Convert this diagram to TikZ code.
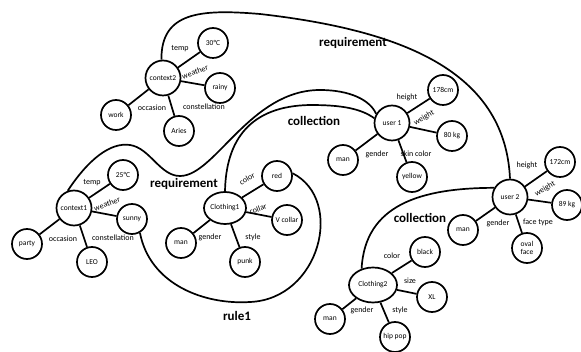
\documentclass[tikz,border=0pt]{standalone}
\usepackage{fontspec}
\setmainfont{Carlito}
\usetikzlibrary{shapes.geometric}

\begin{document}
\begin{tikzpicture}[x=1pt, y=-1pt]
		\tikzstyle{place}=[circle, draw=black, line width=1.7pt, minimum size=30pt, inner sep=0pt, align=center, font=\fontsize{7.5}{7.5}\selectfont]
		\tikzstyle{hub}=[place, minimum size=35pt]
		\tikzstyle{cloth}=[ellipse, draw=black, line width=1.7pt, minimum width=42pt, minimum height=32pt, inner sep=0pt, font=\fontsize{7.5}{7.5}\selectfont]
		\tikzstyle{lbl}=[inner sep=0pt, font=\fontsize{8}{8}\selectfont]
		\tikzstyle{rel}=[font=\bfseries\fontsize{13}{15}\selectfont]
		\tikzstyle{link}=[line width=1.7pt]
		
		\useasboundingbox (0,0) rectangle (581,352);
		
		% Context 2
		\node[hub] at (163,78) (ctx2) {context2};
		\foreach \i/\x/\y/\t in {1/213/43/30°C, 2/220/88/rainy, 3/116/115/work, 4/179/131/Aries}
		\node[place] at (\x,\y) (ctx2_\i) {\t};
		\foreach \i in {1,...,4}
		\draw[link] (ctx2) -- (ctx2_\i);
		\foreach \i/\x/\y/\r/\t in {1/180/49/0/temp, 2/195/72/20/weather, 3/152/108/0/occasion, 4/204/107/0/constellation}
		\node[lbl, rotate=\r] at (\x,\y) (ctx2_l\i) {\t};
		
		% Context 1
		\node[hub] at (74,208) (ctx1) {context1};
		\foreach \i/\x/\y/\t in {1/123/175/25°C, 2/132/219/sunny, 3/27/244/party, 4/92/262/LEO}
		\node[place] at (\x,\y) (ctx1_\i) {\t};
		\foreach \i in {1,...,4}
		\draw[link] (ctx1) -- (ctx1_\i);
		\foreach \i/\x/\y/\r/\t in {1/92/183/0/temp, 2/107/204/20/weather, 3/63/239/0/occasion, 4/113/238/0/constellation}
		\node[lbl, rotate=\r] at (\x,\y) (ctx1_l\i) {\t};
		
		% Clothing 1
		\node[cloth] at (225,208) (cl1) {Clothing1};
		\foreach \i/\x/\y/\t in {1/277/176/red, 2/287/220/V collar, 3/181/243/man, 4/245/262/punk}
		\node[place] at (\x,\y) (cl1_\i) {\t};
		\foreach \i in {1,...,4}
		\draw[link] (cl1) -- (cl1_\i);
		\foreach \i/\x/\y/\r/\t in {1/247/179/30/color, 2/258/209/20/collar, 3/210/237/0/gender, 4/253/237/0/style}
		\node[lbl, rotate=\r] at (\x,\y) (cl1_l\i) {\t};
		
		% User 1
		\node[hub] at (392,123) (usr1) {user 1};
		\foreach \i/\x/\y/\t in {1/443/90/178cm, 2/452/136/80 kg, 3/343/160/man, 4/412/177/yellow}
		\node[place] at (\x,\y) (usr1_\i) {\t};
		\foreach \i in {1,...,4}
		\draw[link] (usr1) -- (usr1_\i);
		\foreach \i/\x/\y/\r/\t in {1/407/97/0/height, 2/424/118/30/weight, 3/377/154/0/gender, 4/416/154/0/skin color}
		\node[lbl, rotate=\r] at (\x,\y) (usr1_l\i) {\t};
		
		% User 2
		\node[hub] at (510,197) (usr2) {user 2};
		\foreach \i/\x/\y/\t in {1/560/162/172cm, 2/567/205/89 kg, 3/463/230/man, 4/527/248/oval\\face}
		\node[place] at (\x,\y) (usr2_\i) {\t};
		\foreach \i in {1,...,4}
		\draw[link] (usr2) -- (usr2_\i);
		\foreach \i/\x/\y/\r/\t in {1/527/165/0/height, 2/545/189/30/weight, 3/498/223/0/gender, 4/538/222/0/face type}
		\node[lbl, rotate=\r] at (\x,\y) (usr2_l\i) {\t};
		
		% Clothing 2
		\node[cloth, minimum width=48pt, minimum height=35pt] at (373,285) (cl2) {Clothing2};
		\foreach \i/\x/\y/\t in {1/425/252/black, 2/432/297/XL, 3/330/319/man, 4/395/337/hip pop}
		\node[place] at (\x,\y) (cl2_\i) {\t};
		\foreach \i in {1,...,4}
		\draw[link] (cl2) -- (cl2_\i);
		\foreach \i/\x/\y/\r/\t in {1/392/256/0/color, 2/410/281/0/size, 3/362/310/0/gender, 4/400/310/0/style}
		\node[lbl, rotate=\r] at (\x,\y) (cl2_l\i) {\t};
		
		% Relations
		\draw[link] (ctx2.95) .. controls (161,12) and (200,9) .. (260,14) .. controls (400,30) and (505,70) .. (usr2.north);
		\node[rel] at (353,43) (req_1) {requirement};
		
		\draw[link] (ctx1.110) .. controls (88,160) and (110,142) .. (130,145) .. controls (150,148) and (160,176) .. (180,176) .. controls (215,176) and (250,90) .. (320,90) .. controls (350,90) and (370,100) .. (usr1.150);
		\node[rel] at (184,184) (req_2) {requirement};
		
		\draw[link] (cl1.north) .. controls (226,140) and (250,106) .. (310,105) .. controls (340,105) and (360,108) .. (usr1.165);
		\node[rel] at (314,121) (col_1) {collection};
		
		\draw[link] (ctx1_2.-60) .. controls (150,285) and (205,305) .. (250,302) .. controls (320,299) and (345,200) .. (cl1_1.10);
		\node[rel] at (237,316) (rule_1) {rule1};
		
		\draw[link] (usr2.150) .. controls (420,188) and (365,205) .. (cl2.125);
		\node[rel] at (420,218) (col_2) {collection};
		
\end{tikzpicture}
\end{document}
